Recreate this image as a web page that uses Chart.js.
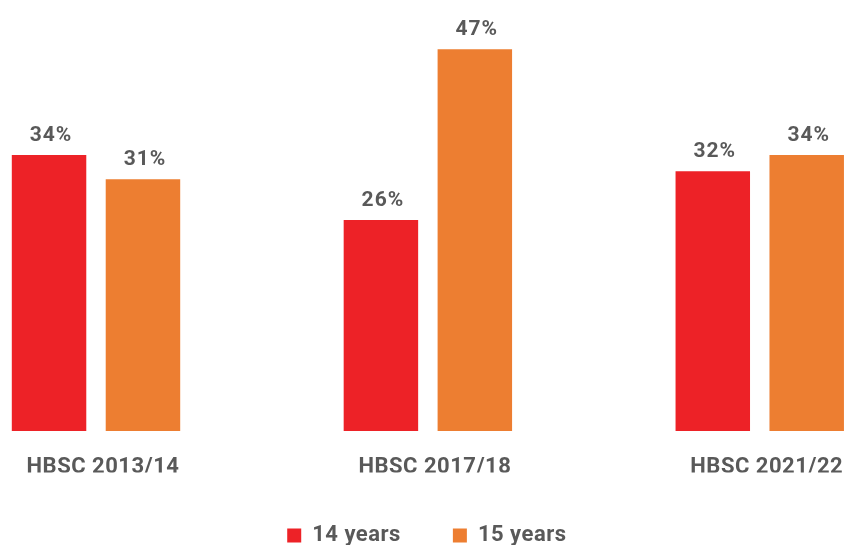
<!DOCTYPE html>
<html>
<head>
<meta charset="utf-8">
<script src="https://cdn.jsdelivr.net/npm/chart.js@4"></script>
<style>
  html, body { margin: 0; padding: 0; background: #fff; }
  #wrap { width: 845px; height: 545px; }
</style>
</head>
<body>
<div id="wrap"><canvas id="hbscChart"></canvas></div>
<script>
// datos
const surveys = ['HBSC 2013/14', 'HBSC 2017/18', 'HBSC 2021/22'];
const age14 = [34, 26, 32];
const age15 = [31, 47, 34];
const seriesNames = ['14 years', '15 years'];

const grey = '#595959';
const font = 'Roboto, "Liberation Sans", Arial, sans-serif';

// un poco de espaciado entre letras, como en el original
const spacing = {
    id: 'spacing',
    beforeDraw(chart) { chart.ctx.letterSpacing = '0.5px'; },
    afterLayout(chart) {
        // la leyenda del original está algo a la izquierda
        chart.legend.left -= 5;
        chart.legend.right -= 5;
    }
};

// etiquetas encima de cada barra
const barLabels = {
    id: 'barLabels',
    afterDatasetsDraw(chart) {
        const c = chart.ctx;
        c.save();
        c.letterSpacing = '1px';
        c.font = 'bold 21px ' + font;
        c.fillStyle = grey;
        c.textAlign = 'center';
        c.textBaseline = 'alphabetic';
        chart.data.datasets.forEach((ds, i) => {
            chart.getDatasetMeta(i).data.forEach((bar, j) => {
                c.fillText(ds.data[j] + '%', bar.x + 2, bar.y - 14);
            });
        });
        c.restore();
    }
};

new Chart(document.getElementById('hbscChart'), {
    type: 'bar',
    data: {
        labels: surveys,
        datasets: [
            { label: seriesNames[0], data: age14, backgroundColor: '#ED2227', clip: false },
            { label: seriesNames[1], data: age15, backgroundColor: '#ED7E31', clip: false }
        ]
    },
    options: {
        responsive: true,
        maintainAspectRatio: false,
        animation: false,
        categoryPercentage: 0.566,
        barPercentage: 0.793,
        layout: { padding: { left: 96, right: 85.25, top: 25, bottom: -11.5 } },
        scales: {
            x: {
                offset: false,
                grid: { display: false, drawTicks: false },
                border: { display: false },
                ticks: {
                    color: grey,
                    font: { family: font, size: 22, weight: 'bold' },
                    padding: 23,
                    labelOffset: 7,
                    maxRotation: 0
                },
                afterFit(scale) {
                    scale.height = 41.5;
                    scale.paddingLeft = 0;
                    scale.paddingRight = 0;
                }
            },
            y: { display: false, min: 0, max: 50 }
        },
        plugins: {
            legend: {
                position: 'bottom',
                labels: {
                    color: grey,
                    font: { family: font, size: 22, weight: 'bold' },
                    boxWidth: 14,
                    boxHeight: 14,
                    padding: 52
                }
            },
            tooltip: { enabled: false }
        }
    },
    plugins: [spacing, barLabels]
});
</script>
</body>
</html>
